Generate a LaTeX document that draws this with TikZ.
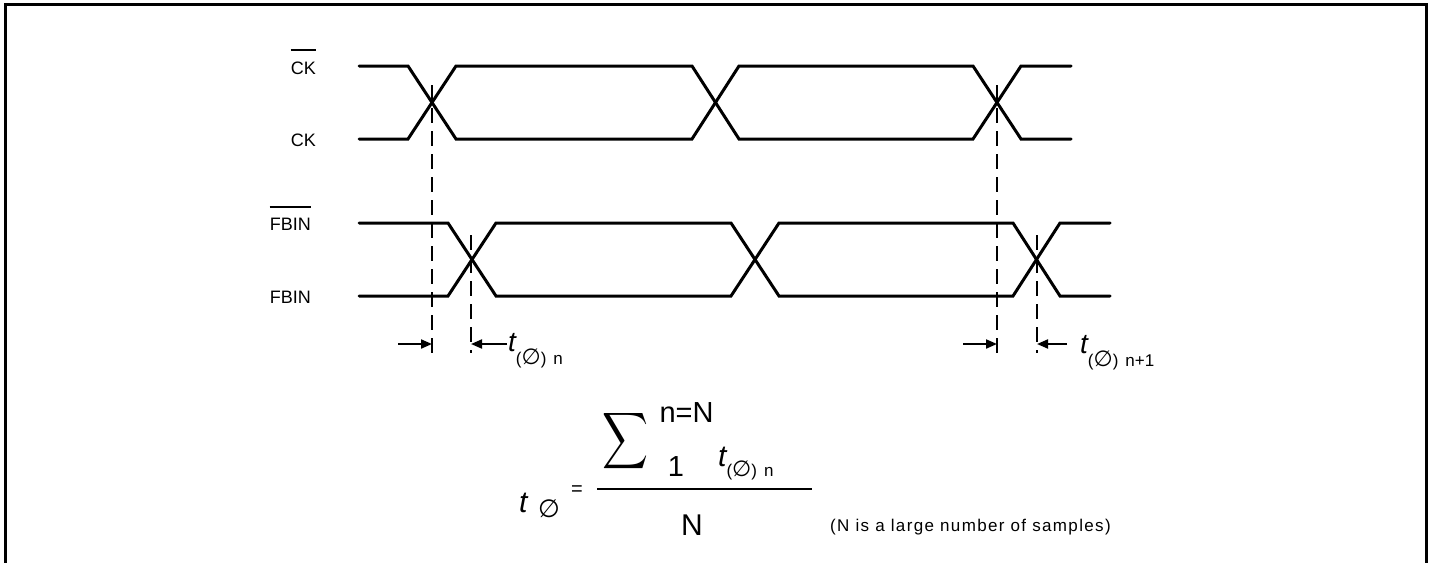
\documentclass[tikz,border=0pt]{standalone}
\usepackage{fontspec}
\setmainfont{Liberation Sans}
\newfontfamily\dvfont{DejaVu Sans}
\usetikzlibrary{arrows.meta}
\newcommand\fs[1]{\fontsize{#1}{#1}\selectfont}
\newcommand\phiglyph[1]{{\dvfont\fs{#1}∅}}
\begin{document}
\begin{tikzpicture}[x=1pt,y=-1pt,
  sig/.style={line width=3pt, line cap=round, line join=miter},
  guide/.style={line width=2pt, dash pattern=on 15pt off 8pt},
  meas/.style={line width=2pt, -{Triangle[length=11pt,width=9pt]}},
  lbl/.style={inner sep=0pt, font=\fs{18}},
  frame/.style={line width=3pt}]
\useasboundingbox (0,0) rectangle (1431,562);
% frame (open at the bottom)
\draw[frame] (5,565) -- (5,4.5) -- (1426.5,4.5) -- (1426.5,565);

% signal labels
\node[lbl, anchor=east] (ckb) at (316,68) {CK};
\draw[line width=2pt] ([yshift=11pt]ckb.north west) -- ([yshift=11pt]ckb.north east);
\node[lbl, anchor=east] (ck) at (316,140) {CK};
\node[lbl, anchor=east] (fbb) at (311,224) {FBIN};
\draw[line width=2pt] ([yshift=11pt]fbb.north west) -- ([yshift=11pt]fbb.north east);
\node[lbl, anchor=east] (fb) at (311,297) {FBIN};

% CK bar
\draw[sig] (359,66) -- (408,66) -- (456,139) -- (692,139) -- (739,66) -- (973,66) -- (1021,139) -- (1071,139);
% CK
\draw[sig] (359,139) -- (408,139) -- (456,66) -- (692,66) -- (739,139) -- (973,139) -- (1021,66) -- (1071,66);
% FBIN bar
\draw[sig] (359,223) -- (448,223) -- (496,296) -- (731,296) -- (779,223) -- (1013,223) -- (1060,296) -- (1110,296);
% FBIN
\draw[sig] (359,296) -- (448,296) -- (496,223) -- (731,223) -- (779,296) -- (1013,296) -- (1060,223) -- (1110,223);

% guides
\coordinate (g1t) at (432,85);  \coordinate (g1b) at (432,353);
\coordinate (g2t) at (471,235); \coordinate (g2b) at (471,353);
\coordinate (g3t) at (997,85);  \coordinate (g3b) at (997,353);
\coordinate (g4t) at (1037,235);\coordinate (g4b) at (1037,353);
\draw[guide] (g1t) -- (g1b);
\draw[guide] (g2t) -- (g2b);
\draw[guide] (g3t) -- (g3b);
\draw[guide] (g4t) -- (g4b);

% measurement arrows
\coordinate (a1s) at (398,344); \coordinate (a1e) at (432,344);
\coordinate (a2s) at (507,344); \coordinate (a2e) at (471,344);
\coordinate (a3s) at (963,344); \coordinate (a3e) at (997,344);
\coordinate (a4s) at (1067,344);\coordinate (a4e) at (1037,344);
\draw[meas] (a1s) -- (a1e);
\draw[meas] (a2s) -- (a2e);
\draw[meas] (a3s) -- (a3e);
\draw[meas] (a4s) -- (a4e);

\node[inner sep=0pt, anchor=base west] (tn) at (508,351)
  {{\fs{28}\itshape t}\raisebox{-13pt}{\fs{17}(\phiglyph{22})\hspace{7pt}n}};
\node[inner sep=0pt, anchor=base west] (tn1) at (1080,353)
  {{\fs{28}\itshape t}\raisebox{-13pt}{\fs{17}(\phiglyph{22})\hspace{7pt}n+1}};

% formula
\node[inner sep=0pt, anchor=base west] (tp) at (519,512) {\fs{30}\itshape t};
\node[inner sep=0pt] (phi) at (549,509) {\phiglyph{25}};
\node[inner sep=0pt] (eq) at (577,491) {\fs{20}=};
\coordinate (fl) at (597,489); \coordinate (fr) at (812,489);
\draw[line width=2pt] (fl) -- (fr);
\node[inner sep=0pt] (sum) at (625,441.5) {\resizebox*{46pt}{63pt}{$\displaystyle\sum$}};
\node[inner sep=0pt] (nN) at (686.5,413) {\fs{29}n=N};
\node[inner sep=0pt] (one) at (676,466.5) {\fs{29}1};
\node[inner sep=0pt, anchor=base west] (tnum) at (718,466)
  {{\fs{30}\itshape t}\raisebox{-10pt}{\fs{17}(\phiglyph{22})\hspace{7pt}n}};
\node[inner sep=0pt] (den) at (692,525) {\fs{30}N};
\node[inner sep=0pt, anchor=west] (note) at (830,527)
  {\addfontfeatures{LetterSpace=8}\fs{17}(N is a large number of samples)};
\end{tikzpicture}
\end{document}
